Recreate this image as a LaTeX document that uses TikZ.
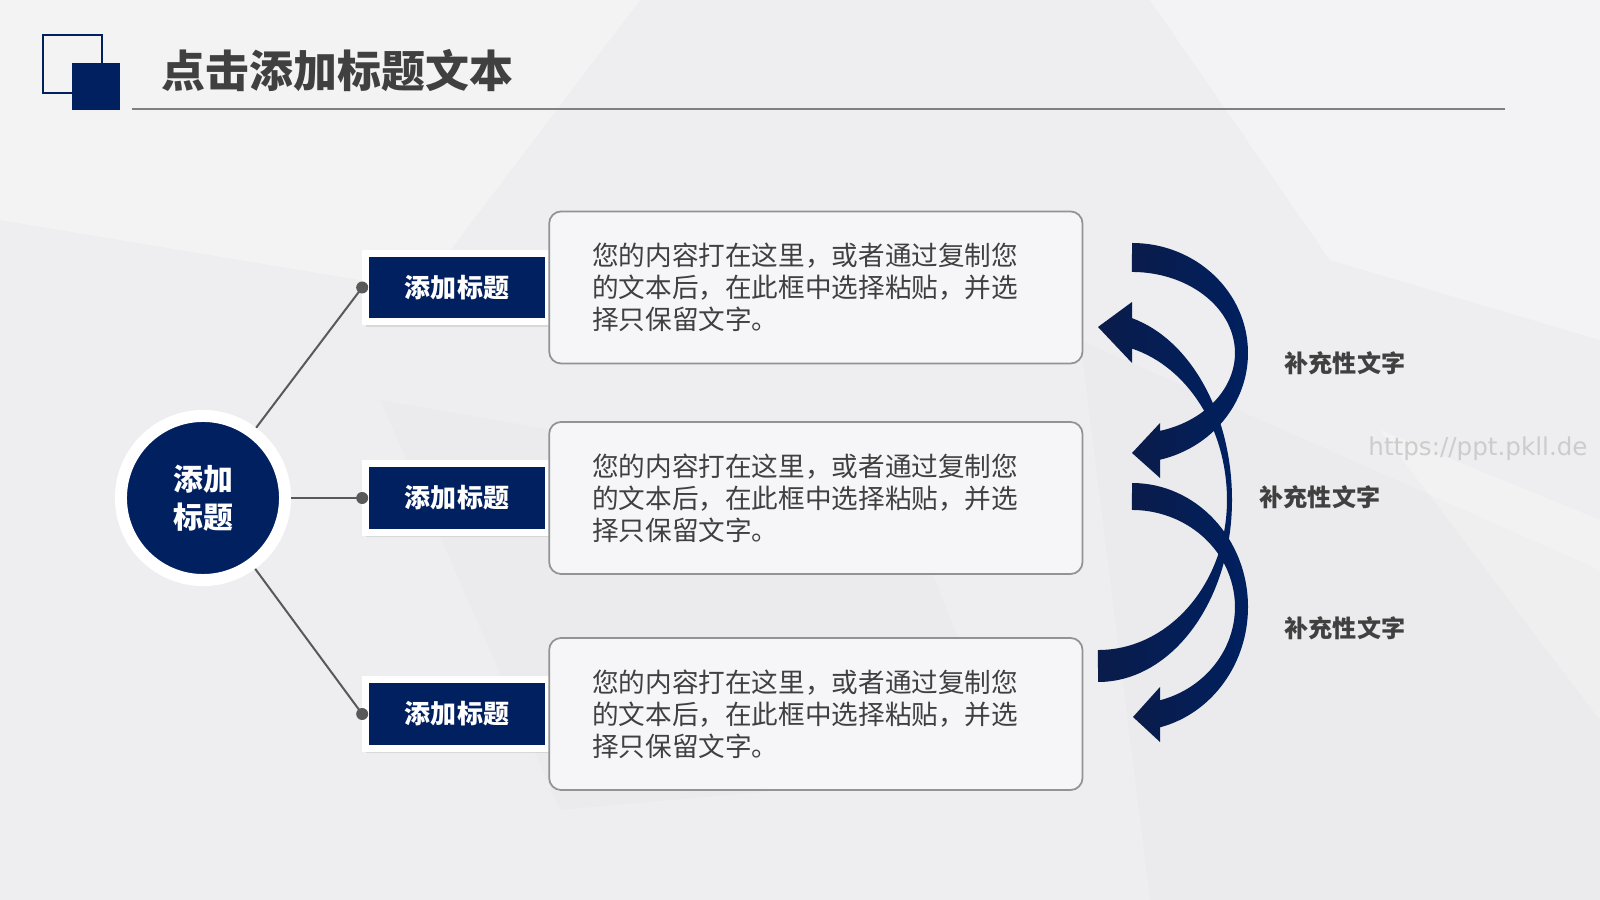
\documentclass[tikz,border=0pt]{standalone}
\usepackage{fontspec}
\setmainfont{Noto Sans CJK SC}
\newfontfamily\cjk{Noto Sans CJK SC}
\newfontfamily\urlfont{DejaVu Sans}
\usetikzlibrary{positioning,shadows}

\definecolor{navy}{RGB}{0,32,96}
\definecolor{navydark}{RGB}{10,28,74}
\definecolor{ink}{RGB}{64,64,64}
\definecolor{bg}{RGB}{238,238,240}

\newcommand\headfont{\cjk\bfseries\fontsize{12.5}{15}\selectfont}
\newcommand\hubfont{\cjk\bfseries\fontsize{8.5}{10.8}\selectfont}
\newcommand\tagfont{\cjk\bfseries\fontsize{7.4}{9}\selectfont}
\newcommand\txtfont{\cjk\fontsize{7.57}{9.1}\selectfont}
\newcommand\sidefont{\cjk\bfseries\fontsize{6.85}{8}\selectfont}

\begin{document}
\begin{tikzpicture}[%
	    x=0.01cm, y=0.01cm,
	    hub/.style={circle, fill=navy, draw=white, line width=0.12cm,
	      minimum size=1.64cm, inner sep=0pt, text=white, align=center,
	      font=\hubfont, drop shadow={shadow xshift=0pt, shadow yshift=-0.03cm, opacity=0.2}},
	    tagbox/.style={fill=navy, draw=white, line width=0.07cm,
	      minimum width=1.825cm, minimum height=0.68cm, inner sep=0pt,
	      text=white, font=\tagfont,
	      drop shadow={shadow xshift=0pt, shadow yshift=-0.05cm, opacity=0.2}},
	    txtbox/.style={rounded corners=0.12cm, fill=white!50!bg, draw=gray!85,
	      line width=0.5pt, minimum width=5.33cm, minimum height=1.52cm,
	      text width=4.47cm, inner xsep=0.43cm, align=left, text=ink, font=\txtfont},
	    knot/.style={circle, fill=black!65, inner sep=0pt, minimum size=0.12cm},
	    link/.style={draw=black!65, line width=0.02cm},
	    swoosh/.style={left color=navydark, right color=navy, draw=none},
	    sidenote/.style={text=ink, font=\sidefont}
	  ]

  \useasboundingbox (0,0) rectangle (1600,900);

  % background
  \fill[bg] (0,0) rectangle (1600,900);
  \fill[white, opacity=0.3] (0,900) -- (640,900) -- (420,610) -- (0,680) -- cycle;
  \fill[white, opacity=0.35] (1150,900) -- (1600,900) -- (1600,560) -- (1330,640) -- cycle;
  \fill[white, opacity=0.25] (1380,470) -- (1600,380) -- (1600,180) -- cycle;
  \fill[black, opacity=0.012] (380,500) -- (900,410) -- (1010,130) -- (560,90) -- cycle;
  \fill[black, opacity=0.01] (1080,560) -- (1600,330) -- (1600,0) -- (1150,0) -- cycle;

  % header
  \draw[navy, line width=0.015cm] (43,807) rectangle (102,865);
  \fill[navy] (72,790) rectangle (120,837);
  \node[anchor=west, text=ink, font=\headfont, inner sep=0pt] (title) at (161,829) {点击添加标题文本};
  \draw[black!50, line width=0.015cm] (132,791) -- (1505,791);

  % left part
  \node[hub] (hub) at (203,402) {添加\\标题};

  \node[tagbox] (t1) at (457,612.5) {添加标题};
  \node[tagbox] (t2) at (457,402) {添加标题};
  \node[tagbox] (t3) at (457,186) {添加标题};

  \node[txtbox] (b1) [right=-0.035cm of t1] {您的内容打在这里，或者通过复制您\\的文本后，在此框中选择粘贴，并选\\择只保留文字。};
  \node[txtbox] (b2) [right=-0.035cm of t2] {您的内容打在这里，或者通过复制您\\的文本后，在此框中选择粘贴，并选\\择只保留文字。};
  \node[txtbox] (b3) [right=-0.035cm of t3] {您的内容打在这里，或者通过复制您\\的文本后，在此框中选择粘贴，并选\\择只保留文字。};

  \node[knot] (k1) at (t1.west) {};
  \node[knot] (k2) at (t2.west) {};
  \node[knot] (k3) at (t3.west) {};

  \path[link] (hub) edge (k1.center)
              (hub) edge (k2.center)
              (hub) edge (k3.center);

  % curved arrows
  \path[swoosh] (1098,218) arc[start angle=-90, end angle=0, x radius=134, y radius=182]
      arc[start angle=0, end angle=75.3, x radius=134, y radius=188]
      -- (1132,598) -- (1098,573) -- (1132,537) -- (1132,551.4)
      arc[start angle=74.7, end angle=0, x radius=129, y radius=157]
      arc[start angle=0, end angle=-90, x radius=129, y radius=150] -- cycle;
  \path[swoosh] (1132,657) arc[start angle=90, end angle=-76, x radius=116, y radius=110]
      -- (1160,422) -- (1132,447) -- (1160,477) -- (1160,469.1)
      arc[start angle=-74.2, end angle=90, x radius=103, y radius=81] -- cycle;
  \path[swoosh] (1132,417) arc[start angle=90, end angle=-76, x radius=116, y radius=124]
      -- (1160,158) -- (1133,183) -- (1160,213) -- (1160,199.7)
      arc[start angle=-74.2, end angle=90, x radius=103, y radius=97] -- cycle;

  \node[sidenote] (n1) at (1345,537) {补充性文字};
  \node[sidenote] (n2) at (1320,403) {补充性文字};
  \node[sidenote] (n3) at (1345,272) {补充性文字};

  \node[text=black!20, font=\urlfont\fontsize{7}{8}\selectfont] (url) at (1478,451) {https://ppt.pkll.de};

\end{tikzpicture}
\end{document}
